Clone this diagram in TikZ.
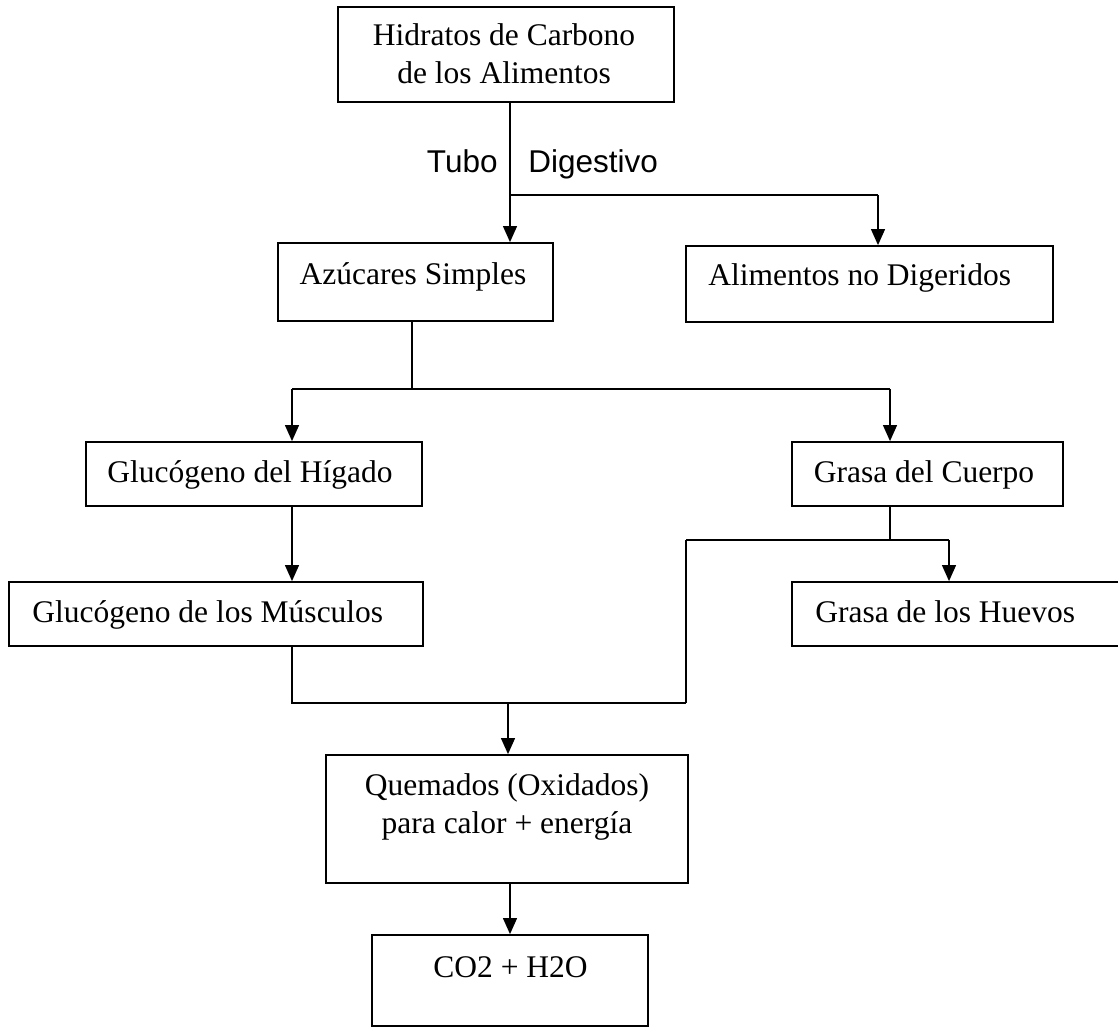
\documentclass[tikz,border=0pt]{standalone}
\usepackage{fontspec}
\setmainfont{Liberation Serif}
\newfontfamily\labelsans{Liberation Sans}
\usetikzlibrary{arrows.meta}

\begin{document}
\begin{tikzpicture}[x=0.5pt,y=-0.5pt,
  box/.style={draw, line width=0.8pt, rectangle, inner sep=0pt},
  txt/.style={inner sep=0pt, anchor=base, font=\fontsize{15.75}{19}\selectfont},
  sanstxt/.style={inner sep=0pt, anchor=base, font=\labelsans\fontsize{15.75}{19}\selectfont},
  link/.style={line width=0.7pt},
  flow/.style={line width=1.1pt, -{Triangle[length=8pt,width=6.8pt]}}]

\useasboundingbox (0,0) rectangle (1118,1028);
\clip (0,0) rectangle (1118,1028);

% boxes
\node[box, minimum width=168pt,   minimum height=47.5pt] (b1)   at (506,54.5) {};
\node[box, minimum width=137.5pt, minimum height=39pt]   (azu)  at (415.5,282) {};
\node[box, minimum width=183.5pt, minimum height=38pt]   (alim) at (869.5,284) {};
\node[box, minimum width=168pt,   minimum height=32pt]   (hig)  at (254,474) {};
\node[box, minimum width=135.5pt, minimum height=32pt]   (cue)  at (927.5,474) {};
\node[box, minimum width=207pt,   minimum height=32pt]   (mus)  at (216,614) {};
\node[box, minimum width=174pt,   minimum height=32pt]   (hue)  at (966,614) {};
\node[box, minimum width=181pt,   minimum height=64pt]   (que)  at (507,819) {};
\node[box, minimum width=138pt,   minimum height=45.5pt] (co2)  at (510,980.5) {};

% box texts
\node[txt] (b1a) at (504,46) {Hidratos de Carbono};
\node[txt] (b1b) at (504,83) {de los Alimentos};
\node[txt] (azut) at (413,284) {Azúcares Simples};
\node[txt, anchor=base west] (alimt) at (708,285) {Alimentos no Digeridos};
\node[txt] (higt) at (250,482) {Glucógeno del Hígado};
\node[txt] (cuet) at (924,482) {Grasa del Cuerpo};
\node[txt, anchor=base west] (must) at (32,622) {Glucógeno de los Músculos};
\node[txt, anchor=base west] (huet) at (815,622) {Grasa de los Huevos};
\node[txt] (quea) at (507,795) {Quemados (Oxidados)};
\node[txt] (queb) at (507,833) {para calor + energía};
\node[txt] (co2t) at (510.5,977) {CO2 + H2O};

% labels beside the main line
\node[sanstxt, anchor=base east] (tubo) at (498,172) {Tubo};
\node[sanstxt, anchor=base west] (dig) at (528,172) {Digestivo};

% junction points
\coordinate (t1) at (510,195);
\coordinate (k1) at (878,195);
\coordinate (j1) at (412,389);
\coordinate (j1l) at (292,389);
\coordinate (j1r) at (890,389);
\coordinate (j2) at (890,540);
\coordinate (j2l) at (686,540);
\coordinate (j2r) at (949,540);
\coordinate (j3l) at (292,703);
\coordinate (j3r) at (686,703);
\coordinate (j3) at (508,703);

% connectors
\draw[flow] (b1.south -| t1) -- (azu.north -| t1);
\draw[link] (t1) -- (k1);
\draw[flow] (k1) -- (alim.north -| k1);

\draw[link] (azu.south -| j1) -- (j1);
\draw[link] (j1l) -- (j1r);
\draw[flow] (j1l) -- (hig.north -| j1l);
\draw[flow] (j1r) -- (cue.north -| j1r);

\draw[flow] (hig.south -| j1l) -- (mus.north -| j1l);

\draw[link] (cue.south -| j2) -- (j2);
\draw[link] (j2l) -- (j2r);
\draw[flow] (j2r) -- (hue.north -| j2r);
\draw[link] (j2l) -- (j3r);

\draw[link] (mus.south -| j3l) -- (j3l) -- (j3r);
\draw[flow] (j3) -- (que.north -| j3);

\draw[flow] (que.south -| co2.north) -- (co2.north);
\end{tikzpicture}
\end{document}
